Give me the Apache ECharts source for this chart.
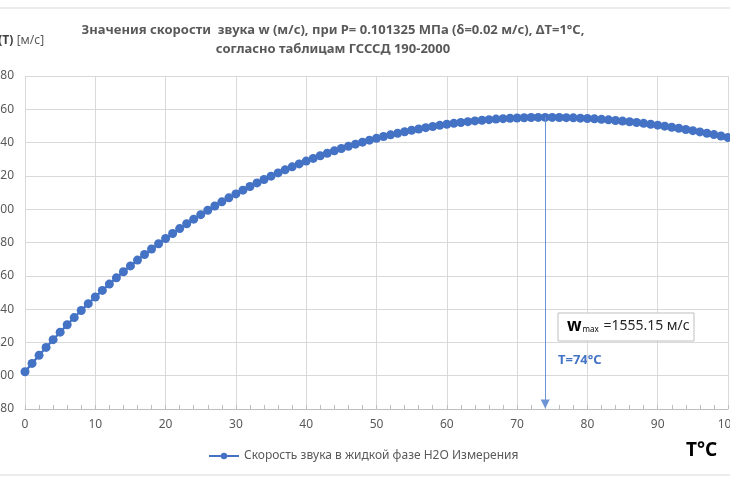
<!DOCTYPE html>
<html>
<head>
<meta charset="utf-8">
<script src="https://cdn.jsdelivr.net/npm/echarts@6/dist/echarts.min.js"></script>
<style>
  html, body { margin: 0; padding: 0; background: #fff; }
  #chart { width: 730px; height: 486px; }
</style>
</head>
<body>
<div id="chart"></div>
<script>
// температура, °C (шаг 1)
var temps = [];
for (var i = 0; i <= 100; i++) temps.push(i);

// скорость звука, м/с (ГСССД 190-2000, P = 0.101325 МПа)
var speeds = [
  1402.39, 1407.37, 1412.23, 1416.99, 1421.63, 1426.17, 1430.60, 1434.92, 1439.15, 1443.27,
  1447.29, 1451.21, 1455.04, 1458.77, 1462.41, 1465.96, 1469.42, 1472.79, 1476.07, 1479.27,
  1482.38, 1485.41, 1488.36, 1491.23, 1494.02, 1496.73, 1499.36, 1501.92, 1504.41, 1506.82,
  1509.17, 1511.44, 1513.64, 1515.78, 1517.84, 1519.85, 1521.78, 1523.65, 1525.46, 1527.21,
  1528.89, 1530.52, 1532.08, 1533.59, 1535.04, 1536.43, 1537.77, 1539.05, 1540.27, 1541.45,
  1542.57, 1543.63, 1544.65, 1545.61, 1546.52, 1547.39, 1548.20, 1548.97, 1549.69, 1550.36,
  1550.99, 1551.57, 1552.10, 1552.59, 1553.03, 1553.43, 1553.79, 1554.10, 1554.38, 1554.60,
  1554.79, 1554.94, 1555.05, 1555.11, 1555.15, 1555.13, 1555.08, 1554.98, 1554.86, 1554.69,
  1554.49, 1554.25, 1553.97, 1553.65, 1553.30, 1552.92, 1552.50, 1552.04, 1551.55, 1551.02,
  1550.47, 1549.87, 1549.25, 1548.59, 1547.89, 1547.17, 1546.41, 1545.62, 1544.80, 1543.95,
  1543.06
];

var seriesName = 'Скорость звука в жидкой фазе H2O Измерения';
var tMax = 74;
var wMax = 1555.15;

var points = temps.map(function (t, k) { return [t, speeds[k]]; });

var chart = echarts.init(document.getElementById('chart'));
var font = '"Noto Sans", "DejaVu Sans", sans-serif';

chart.setOption({
  backgroundColor: '#fff',
  animation: false,
  textStyle: { fontFamily: font },
  grid: { left: 25, right: 2, top: 76, bottom: 77, containLabel: false, outerBoundsMode: 'none' },
  legend: {
    data: [seriesName],
    left: 203,
    top: 445,
    itemWidth: 30,
    itemHeight: 8,
    itemGap: 3,
    textStyle: { color: '#595959', fontSize: 12, fontFamily: font }
  },
  xAxis: {
    type: 'value',
    min: 0,
    max: 100,
    interval: 10,
    axisLine: { lineStyle: { color: '#bfbfbf', width: 1 } },
    axisTick: { show: true, inside: true, length: 4, lineStyle: { color: '#bfbfbf' } },
    minorTick: { show: true, splitNumber: 5, length: 4, lineStyle: { color: '#bfbfbf' } },
    axisLabel: { color: '#595959', fontSize: 12, margin: 10, fontFamily: font },
    splitLine: { show: true, lineStyle: { color: '#d9d9d9', width: 1 } }
  },
  yAxis: {
    type: 'value',
    min: 1380,
    max: 1580,
    interval: 20,
    axisLine: { show: false },
    axisTick: { show: false },
    axisLabel: {
      color: '#595959', fontSize: 12, margin: 11, fontFamily: font,
      formatter: function (v) { return String(v); }
    },
    splitLine: { show: true, lineStyle: { color: '#d9d9d9', width: 1 } }
  },
  series: [{
    name: seriesName,
    type: 'line',
    data: points,
    symbol: 'circle',
    symbolSize: 9,
    itemStyle: { color: '#4472c4' },
    lineStyle: { color: '#4472c4', width: 2.25 },
    markLine: {
      silent: true,
      symbolSize: 9,
      lineStyle: { color: '#6f94d6', width: 1, type: 'solid' },
      label: { show: false },
      data: [[
        { coord: [tMax, wMax], symbol: 'none' },
        { coord: [tMax, 1383], symbol: 'triangle', itemStyle: { color: '#4472c4' } }
      ]]
    }
  }],
  graphic: [
    {
      type: 'rect', silent: true, z: -1,
      shape: { x: -5, y: 8, width: 740, height: 467 },
      style: { fill: 'none', stroke: '#d9d9d9', lineWidth: 1 }
    },
    {
      type: 'text', silent: true,
      x: 333, y: 21,
      style: {
        text: 'Значения скорости  звука w (м/с), при P= 0.101325 МПа (δ=0.02 м/с), ΔT=1°C,\nсогласно таблицам ГСССД 190-2000',
        fill: '#595959',
        font: 'bold 13px ' + font,
        align: 'center',
        lineHeight: 19
      }
    },
    {
      type: 'text', silent: true,
      x: -12, y: 35,
      style: {
        text: '{b|w(T)} {n|[м/с]}',
        rich: {
          b: { font: 'bold 12px ' + font, fill: '#404040' },
          n: { font: '12px ' + font, fill: '#595959' }
        }
      }
    },
    {
      type: 'rect', silent: true, z: 100,
      shape: { x: 558, y: 313, width: 136, height: 28 },
      style: { fill: '#fff', stroke: '#bfbfbf', lineWidth: 1 }
    },
    {
      type: 'text', silent: true, z: 101,
      x: 567, y: 318,
      style: {
        text: '{w|w}{s|max}{v| =1555.15 м/с}',
        rich: {
          w: { font: 'bold 17px ' + font, fill: '#000' },
          s: { font: '8px ' + font, fill: '#000', padding: [7, 1, 0, 1] },
          v: { font: '14px ' + font, fill: '#262626' }
        }
      }
    },
    {
      type: 'text', silent: true,
      x: 558, y: 354,
      style: { text: 'T=74°C', font: 'bold 13px ' + font, fill: '#4472c4' }
    },
    {
      type: 'text', silent: true,
      x: 686, y: 441,
      style: { text: 'T°C', font: 'bold 19px ' + font, fill: '#000' }
    }
  ]
});
</script>
</body>
</html>
